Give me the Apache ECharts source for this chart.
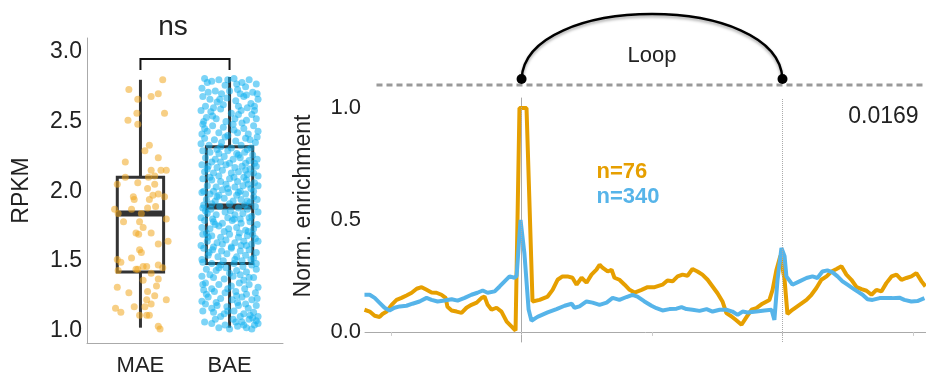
<!DOCTYPE html>
<html>
<head>
<meta charset="utf-8">
<script src="https://cdn.jsdelivr.net/npm/echarts@6/dist/echarts.min.js"></script>
<style>
html,body{margin:0;padding:0;background:#fff;}
#chart{width:926px;height:377px;}
</style>
</head>
<body>
<div id="chart"></div>
<script>
// ---------- DATA ----------
const categories = ['MAE', 'BAE'];
const rpkmTicks = [1, 1.5, 2, 2.5, 3];
const enrichTicks = [0, 0.5, 1];
const profileTicks = [-50, 0, 50, 100, 150];
const loopAnchors = [0, 100];
const sampleLabels = ['n=76', 'n=340'];
const pValueLabel = '0.0169';
const signifLabel = 'ns';
const loopLabel = 'Loop';

// box statistics: [min, q1, median, q3, max]
const maeBox = [1.02, 1.42, 1.84, 2.10, 2.80];
const baeBox = [1.02, 1.48, 1.89, 2.32, 2.82];

// jittered points: [horizontal jitter, RPKM]
const maePoints = [
 [0.25,2.80],[-0.13,2.73],[0.20,2.70],[0.12,2.68],[-0.03,2.66],[-0.04,2.56],[0.27,2.56],[-0.14,2.51],[-0.03,2.48],
 [0.10,2.33],[0.05,2.29],[0.20,2.24],[-0.17,2.21],[0.12,2.15],[0.23,2.15],[0.29,2.15],[0.16,2.11],[0.09,2.10],
 [-0.17,2.10],[-0.26,2.05],[-0.03,2.06],[0.08,2.02],[0.16,2.05],[-0.08,1.96],[-0.07,1.94],[0.14,1.97],[0.20,1.98],
 [0.27,1.96],[0.10,1.94],[-0.29,1.87],[-0.10,1.87],[0.08,1.88],[0.17,1.89],[0.01,1.84],[0.03,1.74],[0.12,1.70],
 [-0.05,1.70],[-0.02,1.69],[0.20,1.62],[0.31,1.64],[-0.01,1.58],[0.01,1.56],[-0.10,1.52],[-0.26,1.51],[-0.22,1.49],
 [0.20,1.47],[-0.03,1.44],[0.03,1.46],[0.07,1.46],[-0.25,1.43],[0.03,1.36],[0.20,1.37],[0.18,1.32],[-0.26,1.31],
 [-0.13,1.27],[0.08,1.28],[0.16,1.25],[0.07,1.22],[0.29,1.22],[-0.28,1.16],[-0.22,1.13],[-0.07,1.17],[0.05,1.17],
 [0.12,1.19],[-0.01,1.11],[0.07,1.11],[0.10,1.11],[0.20,1.03],[0.22,1.01],[0.25,1.45],[-0.05,1.44],[0.12,1.41],
 [-0.25,1.84],[-0.19,1.78],[0.29,1.80],[-0.01,1.78]
];
const baePoints = [
 [-0.28,2.81],[-0.2,2.79],[-0.12,2.80],[0.05,2.81],[0.14,2.78],[0.22,2.80],[0.3,2.77],[-0.31,2.74],[-0.05,2.76],[0.09,2.73],[0.18,2.75],[-0.24,2.71],[-0.16,2.72],[0.26,2.71],[0.0,2.72],[-0.09,2.70],[0.12,2.70],[0.31,2.70],
 [-0.3,2.68],[-0.22,2.66],[-0.14,2.64],[-0.03,2.67],[0.07,2.65],[0.16,2.68],[0.24,2.63],[0.32,2.66],[-0.27,2.61],[-0.07,2.62],[0.1,2.61],[0.2,2.60],[-0.18,2.60],[0.28,2.61],
 [-0.32,2.58],[-0.21,2.57],[-0.1,2.59],[0.02,2.56],[0.13,2.58],[0.25,2.55],[-0.26,2.53],[-0.15,2.52],[0.06,2.52],[0.19,2.51],[0.3,2.52],[-0.04,2.50],[0.1,2.55],[-0.29,2.50],
 [-0.3,2.48],[-0.19,2.47],[-0.07,2.46],[0.04,2.48],[0.16,2.45],[0.27,2.47],[-0.25,2.43],[-0.12,2.42],[0.09,2.42],[0.21,2.41],[0.32,2.43],[-0.02,2.40],[-0.31,2.41],[0.14,2.49],
 [-0.28,2.38],[-0.17,2.37],[-0.05,2.39],[0.07,2.36],[0.18,2.38],[0.29,2.35],[-0.23,2.33],[-0.1,2.32],[0.02,2.31],[0.13,2.33],[0.24,2.31],[-0.32,2.34],[0.31,2.39],[-0.14,2.30],[0.2,2.30],
 [-0.3,2.29],[-0.22,2.28],[-0.12,2.27],[-0.02,2.29],[0.08,2.27],[0.17,2.28],[0.26,2.26],[-0.27,2.24],[-0.16,2.23],[-0.06,2.25],[0.04,2.23],[0.12,2.24],[0.22,2.22],[0.31,2.23],[-0.2,2.21],[0.0,2.20],[0.18,2.20],[-0.1,2.21],[0.28,2.20],
 [-0.31,2.19],[-0.24,2.18],[-0.14,2.17],[-0.04,2.19],[0.06,2.17],[0.14,2.18],[0.23,2.16],[0.3,2.18],[-0.28,2.14],[-0.18,2.13],[-0.08,2.15],[0.02,2.13],[0.1,2.14],[0.2,2.12],[0.27,2.13],[-0.22,2.10],[-0.12,2.11],[0.05,2.10],[0.16,2.10],[0.32,2.11],
 [-0.3,2.09],[-0.2,2.08],[-0.1,2.07],[0.0,2.09],[0.09,2.07],[0.19,2.08],[0.28,2.06],[-0.25,2.04],[-0.15,2.03],[-0.04,2.05],[0.06,2.03],[0.15,2.04],[0.24,2.02],[0.32,2.04],[-0.29,2.00],[-0.08,2.01],[0.12,2.00],[0.21,2.05],[-0.18,2.00],
 [-0.31,1.99],[-0.22,1.98],[-0.12,1.97],[-0.01,1.99],[0.08,1.97],[0.18,1.98],[0.27,1.96],[-0.26,1.94],[-0.16,1.93],[-0.06,1.95],[0.04,1.93],[0.13,1.94],[0.23,1.92],[0.31,1.94],[-0.2,1.91],[0.0,1.91],[0.17,1.90],[-0.29,1.90],[0.1,1.99],
 [-0.3,1.88],[-0.21,1.87],[-0.11,1.89],[0.01,1.86],[0.1,1.88],[0.2,1.87],[0.29,1.89],[-0.25,1.84],[-0.15,1.83],[-0.05,1.85],[0.06,1.83],[0.15,1.84],[0.25,1.82],[0.32,1.85],[-0.32,1.81],[-0.19,1.80],[-0.02,1.81],[0.12,1.80],[0.22,1.81],
 [-0.28,1.79],[-0.18,1.78],[-0.08,1.77],[0.03,1.79],[0.13,1.77],[0.23,1.78],[0.31,1.76],[-0.31,1.74],[-0.22,1.73],[-0.12,1.75],[-0.01,1.73],[0.08,1.74],[0.18,1.72],[0.27,1.73],[-0.26,1.70],[-0.06,1.71],[0.11,1.70],[0.21,1.71],
 [-0.3,1.69],[-0.2,1.68],[-0.1,1.67],[0.0,1.69],[0.1,1.67],[0.2,1.68],[0.29,1.66],[-0.25,1.64],[-0.14,1.63],[-0.04,1.65],[0.06,1.63],[0.16,1.64],[0.25,1.62],[0.32,1.64],[-0.32,1.61],[-0.18,1.60],[0.02,1.60],[0.13,1.61],
 [-0.29,1.59],[-0.19,1.58],[-0.09,1.57],[0.02,1.59],[0.12,1.57],[0.22,1.58],[0.3,1.56],[-0.24,1.54],[-0.13,1.53],[-0.03,1.55],[0.08,1.53],[0.18,1.54],[0.27,1.52],[-0.31,1.51],[-0.07,1.50],[0.14,1.50],[0.24,1.51],
 [-0.3,1.49],[-0.2,1.48],[-0.1,1.47],[0.05,1.48],[0.15,1.46],[0.25,1.47],[-0.26,1.44],[-0.15,1.43],[-0.04,1.45],[0.08,1.43],[0.19,1.42],[0.3,1.44],[-0.22,1.40],[0.0,1.41],[0.12,1.40],
 [-0.31,1.39],[-0.18,1.38],[-0.06,1.37],[0.04,1.39],[0.16,1.36],[0.27,1.38],[-0.27,1.34],[-0.12,1.33],[0.02,1.32],[0.11,1.34],[0.22,1.33],[0.32,1.31],[-0.2,1.30],[-0.02,1.30],[0.17,1.30],
 [-0.29,1.29],[-0.17,1.28],[-0.05,1.27],[0.07,1.28],[0.19,1.26],[0.29,1.27],[-0.24,1.24],[-0.1,1.23],[0.03,1.22],[0.14,1.24],[0.25,1.22],[-0.31,1.21],[-0.15,1.20],[0.09,1.20],[0.31,1.23],
 [-0.27,1.19],[-0.14,1.18],[-0.03,1.17],[0.1,1.18],[0.21,1.16],[0.3,1.18],[-0.3,1.14],[-0.18,1.13],[-0.06,1.12],[0.05,1.14],[0.16,1.12],[0.27,1.13],[-0.1,1.10],[0.12,1.10],[0.23,1.11],[0.32,1.10],
 [-0.28,1.06],[-0.2,1.05],[0.04,1.08],[0.14,1.06],[0.22,1.08],[0.3,1.07],[-0.05,1.04],[0.09,1.03],[0.19,1.02],[0.28,1.04],[-0.12,1.02],[0.0,1.01],[0.32,1.05],[0.25,1.01],
 [-0.25,2.78],[0.08,2.77],[-0.02,2.80],[0.19,2.69],[-0.11,2.66],[0.28,2.58],[-0.19,2.54],[0.05,2.44],[-0.28,2.45],[0.23,2.37],
 [-0.09,2.35],[0.1,2.26],[-0.25,2.16],[0.18,2.15],[-0.02,2.02],[0.27,2.00],[-0.14,1.96],[0.2,1.93],[-0.27,1.86],[0.05,1.80],
 [-0.16,1.76],[0.26,1.69],[-0.08,1.62],[0.19,1.61],[-0.23,1.56],[0.06,1.51],[-0.12,1.45],[0.22,1.38],[-0.3,1.33],[0.08,1.25],
 [-0.2,1.16],[0.18,1.19],[-0.02,1.14],[0.26,1.09],[-0.16,1.08],[0.07,1.06],[0.16,1.04],[-0.26,1.26],[0.3,1.48],[-0.24,1.67]
];

// enrichment profiles: [position (% of loop span), normalized enrichment]
const profileMAE = [
 [-60.2,0.099],[-58.2,0.091],[-56.3,0.072],[-54.4,0.067],[-53.3,0.08],[-51.7,0.091],[-49.8,0.121],[-47.9,0.143],[-46.0,0.152],[-44.1,0.163],
 [-42.1,0.175],[-40.2,0.193],[-38.3,0.2],[-36.4,0.188],[-34.5,0.176],[-32.6,0.175],[-30.7,0.166],[-29.1,0.152],[-28.4,0.112],[-26.8,0.096],
 [-24.9,0.091],[-23.0,0.085],[-21.1,0.108],[-19.2,0.121],[-17.2,0.131],[-15.3,0.152],[-14.2,0.158],[-13.0,0.121],[-11.5,0.099],[-9.6,0.108],
 [-7.7,0.091],[-5.7,0.046],[-3.8,0.024],[-2.3,0.006],[-0.8,1.0],[1.9,1.0],[4.2,0.136],[6.9,0.143],[10.0,0.158],[11.9,0.188],
 [13.8,0.233],[15.7,0.248],[17.6,0.248],[19.5,0.242],[21.1,0.211],[23.0,0.242],[24.9,0.22],[26.8,0.256],[28.7,0.278],[29.9,0.3],
 [31.0,0.287],[33.0,0.27],[34.5,0.278],[35.6,0.242],[37.5,0.233],[39.5,0.211],[41.4,0.188],[43.3,0.176],[46.0,0.188],[48.3,0.2],
 [51.0,0.2],[54.0,0.211],[55.9,0.23],[57.9,0.226],[59.8,0.248],[61.7,0.256],[63.6,0.251],[65.5,0.281],[67.4,0.27],[69.3,0.256],
 [71.3,0.233],[73.2,0.203],[75.1,0.173],[77.0,0.136],[78.5,0.084],[80.5,0.069],[82.4,0.051],[84.3,0.032],[86.2,0.066],[88.1,0.099],
 [90.0,0.106],[92.3,0.126],[95.0,0.143],[96.2,0.188],[97.7,0.278],[99.2,0.34],[100.8,0.233],[101.9,0.08],[103.8,0.099],[106.5,0.121],
 [109.2,0.143],[111.1,0.166],[113.0,0.196],[114.9,0.233],[116.9,0.248],[118.8,0.27],[120.7,0.281],[122.6,0.293],[124.5,0.256],[126.4,0.233],
 [128.4,0.2],[130.3,0.191],[132.2,0.184],[134.1,0.166],[136.0,0.188],[137.9,0.181],[139.8,0.218],[141.8,0.248],[143.7,0.256],[145.6,0.233],
 [147.5,0.241],[149.4,0.248],[151.3,0.263],[153.3,0.226],[154.8,0.203]
];
const profileBAE = [
 [-60.2,0.166],[-58.2,0.166],[-56.3,0.152],[-54.4,0.13],[-52.5,0.108],[-50.6,0.096],[-48.7,0.108],[-46.7,0.114],[-44.1,0.117],[-41.8,0.126],
 [-39.1,0.136],[-36.4,0.152],[-34.5,0.143],[-32.2,0.136],[-29.5,0.14],[-26.8,0.146],[-24.5,0.14],[-21.8,0.152],[-19.2,0.166],[-16.9,0.175],
 [-14.9,0.185],[-13.0,0.175],[-10.3,0.181],[-8.4,0.203],[-6.5,0.226],[-4.6,0.248],[-2.7,0.242],[-1.9,0.25],[-0.4,0.5],[1.1,0.35],
 [2.7,0.1],[3.8,0.05],[6.1,0.067],[10.0,0.087],[13.4,0.102],[16.5,0.117],[19.2,0.126],[20.3,0.108],[22.2,0.114],[24.9,0.136],
 [27.2,0.131],[29.9,0.121],[32.6,0.131],[34.9,0.152],[37.5,0.143],[40.2,0.156],[42.5,0.166],[44.4,0.158],[47.1,0.136],[49.8,0.117],
 [51.7,0.106],[54.0,0.096],[56.7,0.102],[59.4,0.104],[61.3,0.111],[63.2,0.102],[65.5,0.099],[68.2,0.094],[70.9,0.102],[73.2,0.091],
 [75.9,0.099],[78.5,0.099],[80.8,0.091],[82.8,0.076],[84.7,0.091],[86.6,0.087],[90.0,0.091],[93.1,0.096],[95.8,0.099],[96.9,0.054],
 [98.1,0.233],[99.6,0.375],[100.8,0.338],[101.5,0.248],[103.8,0.211],[106.5,0.226],[109.2,0.241],[111.5,0.248],[113.4,0.241],[115.3,0.27],
 [117.2,0.275],[119.2,0.266],[121.1,0.248],[123.0,0.226],[124.9,0.211],[126.8,0.196],[128.7,0.181],[130.7,0.166],[132.6,0.146],[134.5,0.143],
 [137.2,0.151],[139.8,0.151],[142.1,0.151],[144.8,0.153],[146.7,0.143],[149.4,0.136],[151.7,0.138],[154.4,0.151]
];

// ---------- CHART ----------
const ORANGE = '#E69F00';
const BLUE = '#56B4E9';
const TXT = '#222';
const FONT = '"Liberation Sans", Arial, sans-serif';
const boxHalf = 0.26;

const chart = echarts.init(document.getElementById('chart'), null, {renderer: 'canvas'});

const option = {
  animation: false,
  backgroundColor: '#fff',
  textStyle: {fontFamily: FONT, color: TXT},
  grid: [
    {left: 87, top: 38, width: 196, height: 305},
    {left: 365, top: 98, right: 0, height: 244}
  ],
  xAxis: [
    {
      type: 'value', gridIndex: 0, min: 0.4, max: 2.6,
      axisLine: {show: true, lineStyle: {color: '#aaa', width: 1}},
      axisTick: {show: false},
      splitLine: {show: false},
      axisLabel: {
        customValues: [1, 2], margin: 12, fontSize: 22, color: TXT,
        formatter: v => categories[Math.round(v) - 1] || ''
      }
    },
    {
      type: 'value', gridIndex: 1, min: -60, max: 155,
      axisLine: {show: true, lineStyle: {color: '#aaa', width: 1}},
      axisTick: {show: true, customValues: profileTicks, length: 4, lineStyle: {color: '#ccc'}},
      splitLine: {show: false},
      axisLabel: {show: false}
    }
  ],
  yAxis: [
    {
      type: 'value', gridIndex: 0, min: 0.91, max: 3.1,
      axisLine: {show: true, lineStyle: {color: '#aaa', width: 1}},
      axisTick: {show: false},
      splitLine: {show: false},
      axisLabel: {customValues: rpkmTicks, margin: 5, fontSize: 23, color: TXT, formatter: v => v.toFixed(1)},
      name: 'RPKM', nameLocation: 'middle', nameGap: 54,
      nameTextStyle: {fontSize: 23, color: TXT}
    },
    {
      type: 'value', gridIndex: 1, min: -0.045, max: 1.045,
      axisLine: {show: true, lineStyle: {color: '#aaa', width: 1}},
      axisTick: {show: false},
      splitLine: {show: false},
      axisLabel: {customValues: enrichTicks, margin: 4, fontSize: 22, color: TXT, formatter: v => v.toFixed(1)},
      name: 'Norm. enrichment', nameLocation: 'middle', nameGap: 50,
      nameTextStyle: {fontSize: 23, color: TXT, padding: [0, 0, 0, 28]}
    }
  ],
  series: [
    {
      type: 'scatter', xAxisIndex: 0, yAxisIndex: 0,
      data: maePoints.map(p => [1 + p[0], p[1]]),
      symbolSize: 7, itemStyle: {color: '#F0A820', opacity: 0.55}, silent: true
    },
    {
      type: 'scatter', xAxisIndex: 0, yAxisIndex: 0,
      data: baePoints.map(p => [2 + p[0], p[1]]),
      symbolSize: 7, itemStyle: {color: '#10B0F0', opacity: 0.55}, silent: true
    },
    {
      type: 'custom', xAxisIndex: 0, yAxisIndex: 0,
      data: [[1].concat(maeBox), [2].concat(baeBox)],
      encode: {x: 0, y: [1, 2, 3, 4, 5]},
      silent: true,
      renderItem: function (params, api) {
        const x = api.value(0);
        const pMin = api.coord([x, api.value(1)]);
        const pQ1 = api.coord([x - boxHalf, api.value(2)]);
        const pMed = api.coord([x + boxHalf, api.value(3)]);
        const pQ3 = api.coord([x + boxHalf, api.value(4)]);
        const pMax = api.coord([x, api.value(5)]);
        const left = pQ1[0], right = pQ3[0];
        const st = {stroke: '#333', lineWidth: 3, fill: null};
        return {
          type: 'group',
          children: [
            {type: 'line', shape: {x1: pMin[0], y1: pMin[1], x2: pMin[0], y2: pQ1[1]}, style: st},
            {type: 'line', shape: {x1: pMax[0], y1: pQ3[1], x2: pMax[0], y2: pMax[1]}, style: st},
            {type: 'rect', shape: {x: left, y: pQ3[1], width: right - left, height: pQ1[1] - pQ3[1]}, style: st},
            {type: 'line', shape: {x1: left, y1: pMed[1], x2: right, y2: pMed[1]}, style: {stroke: '#333', lineWidth: 6}}
          ]
        };
      }
    },
    {
      type: 'line', xAxisIndex: 1, yAxisIndex: 1, data: profileMAE,
      showSymbol: false, lineStyle: {color: ORANGE, width: 4}, itemStyle: {color: ORANGE},
      silent: true, z: 3,
      markLine: {
        silent: true, symbol: 'none', label: {show: false},
        lineStyle: {type: 'dotted', color: '#aaa', width: 1},
        data: loopAnchors.map(a => ({xAxis: a}))
      }
    },
    {
      type: 'line', xAxisIndex: 1, yAxisIndex: 1, data: profileBAE,
      showSymbol: false, lineStyle: {color: BLUE, width: 4}, itemStyle: {color: BLUE},
      silent: true, z: 4
    }
  ]
};
chart.setOption(option);

// annotations placed through the axes' own scales
const L = p => chart.convertToPixel({gridIndex: 0}, p);
const R = p => chart.convertToPixel({gridIndex: 1}, p);

const brL = L([1, 2.87]), brTL = L([1, 2.95]), brTR = L([2, 2.95]), brR = L([2, 2.87]);
const nsPos = L([1.365, 3.175]);
const dashA = R([-55.6, 1.103]), dashB = R([155, 1.103]);
const dot1 = R([loopAnchors[0], 1.13]), dot2 = R([loopAnchors[1], 1.13]);
const arcTop = R([50, 1.42]);
const loopPos = R([50, 1.232]);
const pPos = R([138.7, 0.96]);
const n1Pos = R([28.7, 0.714]);
const n2Pos = R([28.7, 0.605]);
const h = dot1[1] - arcTop[1];

chart.setOption({
  graphic: [
    {type: 'polyline', silent: true, shape: {points: [brL, brTL, brTR, brR]}, style: {stroke: '#111', lineWidth: 2, fill: null}},
    {type: 'text', silent: true, x: nsPos[0], y: nsPos[1], style: {text: signifLabel, fontSize: 28, fontFamily: FONT, fill: TXT, align: 'center', verticalAlign: 'middle'}},
    {type: 'line', silent: true, shape: {x1: dashA[0], y1: dashA[1], x2: dashB[0], y2: dashB[1]}, style: {stroke: '#9a9a9a', lineWidth: 3, lineDash: [6, 4]}},
    {type: 'bezierCurve', silent: true,
      shape: {x1: dot1[0], y1: dot1[1], x2: dot2[0], y2: dot2[1],
        cpx1: dot1[0] + 4, cpy1: dot1[1] - h * 4 / 3, cpx2: dot2[0] - 4, cpy2: dot2[1] - h * 4 / 3},
      style: {stroke: '#000', lineWidth: 2.5, fill: null, shadowColor: 'rgba(0,0,0,0.35)', shadowBlur: 3, shadowOffsetY: 2}},
    {type: 'circle', silent: true, shape: {cx: dot1[0], cy: dot1[1], r: 5}, style: {fill: '#000'}},
    {type: 'circle', silent: true, shape: {cx: dot2[0], cy: dot2[1], r: 5}, style: {fill: '#000'}},
    {type: 'text', silent: true, x: loopPos[0], y: loopPos[1], style: {text: loopLabel, fontSize: 22, fontFamily: FONT, fill: TXT, align: 'center', verticalAlign: 'middle'}},
    {type: 'text', silent: true, x: pPos[0], y: pPos[1], style: {text: pValueLabel, fontSize: 23, fontFamily: FONT, fill: TXT, align: 'center', verticalAlign: 'middle'}},
    {type: 'text', silent: true, x: n1Pos[0], y: n1Pos[1], style: {text: sampleLabels[0], fontSize: 22, fontWeight: 'bold', fontFamily: FONT, fill: ORANGE, align: 'left', verticalAlign: 'middle'}},
    {type: 'text', silent: true, x: n2Pos[0], y: n2Pos[1], style: {text: sampleLabels[1], fontSize: 22, fontWeight: 'bold', fontFamily: FONT, fill: BLUE, align: 'left', verticalAlign: 'middle'}}
  ]
});
</script>
</body>
</html>
